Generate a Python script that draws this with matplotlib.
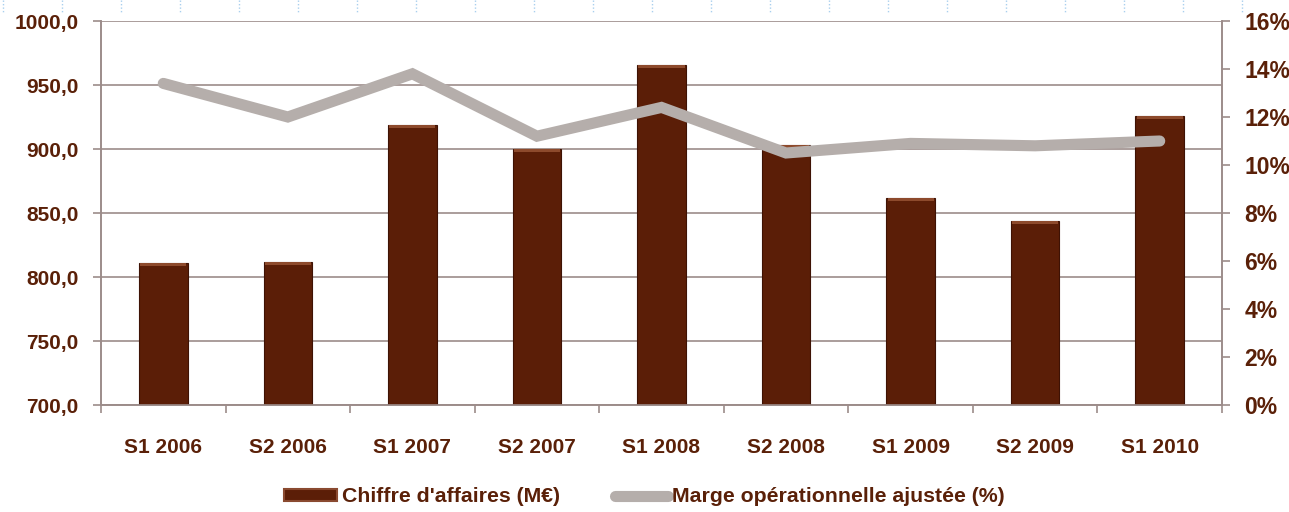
import matplotlib.pyplot as plt
import numpy as np
from matplotlib.lines import Line2D

# données
periodes = ['S1 2006', 'S2 2006', 'S1 2007', 'S2 2007', 'S1 2008',
            'S2 2008', 'S1 2009', 'S2 2009', 'S1 2010']
chiffre_affaires = [811, 812, 919, 900, 966, 903, 862, 844, 926]
marge = [13.4, 12.0, 13.8, 11.2, 12.4, 10.5, 10.9, 10.8, 11.0]

brun = '#5a2008'
gris = '#b5aeab'
grille = '#9c8c8a'

plt.rcParams['font.family'] = ['Liberation Sans', 'DejaVu Sans']
plt.rcParams['font.weight'] = 'bold'

fig = plt.figure(figsize=(12.89, 5.12), dpi=100)
ax = fig.add_axes([101 / 1289, 1 - 405 / 512, 1121 / 1289, 384 / 512])
ax2 = ax.twinx()

x = np.arange(len(periodes))
ax.bar(x, [v - 700 for v in chiffre_affaires], bottom=700, width=0.39,
       color='#5b1e07', edgecolor='#3e1204', linewidth=0.8, zorder=3)
# petit biseau clair en haut des barres
ax.bar(x, 2.5, bottom=[v - 2.5 for v in chiffre_affaires], width=0.37,
       color='#8d4a2c', linewidth=0, zorder=3)
ax.set_ylim(700, 1000)
ax.set_xlim(-0.5, len(periodes) - 0.5)
ax.set_yticks(np.arange(700, 1001, 50))
ax.set_yticklabels([f'{v:.1f}'.replace('.', ',') for v in np.arange(700, 1001, 50)])
ax.grid(axis='y', color=grille, linewidth=1.2, zorder=0)
ax.set_axisbelow(True)

# ticks x entre les catégories
ax.set_xticks(x)
ax.set_xticklabels(periodes)
ax.set_xticks(np.arange(-0.5, len(periodes)), minor=True)
ax.tick_params(axis='x', which='major', length=0, pad=24)
ax.tick_params(axis='x', which='minor', length=6, color=grille, width=1.2, direction='out')
ax.tick_params(axis='y', length=6, color=grille, width=1.2, pad=10)

ax2.plot(x, marge, color=gris, linewidth=8, solid_capstyle='round',
         solid_joinstyle='miter', zorder=4)
ax2.set_ylim(0, 16)
ax2.set_yticks(np.arange(0, 17, 2))
ax2.set_yticklabels([f'{v}%' for v in range(0, 17, 2)])
ax2.tick_params(axis='y', length=6, color=grille, width=1.2, pad=10)

for a in (ax, ax2):
    for s in a.spines.values():
        s.set_color(grille)
        s.set_linewidth(1.2)
    a.spines['top'].set_visible(False)
    for lab in a.get_xticklabels() + a.get_yticklabels():
        lab.set_color(brun)
        lab.set_fontsize(15)
        lab.set_fontweight('bold')
for lab in ax2.get_yticklabels():
    lab.set_fontsize(16.5)

# légende
handles = [
    plt.Rectangle((0, 0), 1, 1, facecolor='#5b1e07', edgecolor='#8a4a30', linewidth=1.5),
    Line2D([0], [0], color=gris, linewidth=8, solid_capstyle='round'),
]
leg = fig.legend(handles, ["Chiffre d'affaires (M€)", 'Marge opérationnelle ajustée (%)'],
                 loc='center', bbox_to_anchor=(0.5, 1 - 497 / 512), ncol=2, frameon=False,
                 handlelength=2.5, handleheight=0.55, handletextpad=0.2, columnspacing=2.6,
                 prop={'family': ['Liberation Sans Narrow', 'Liberation Sans'],
                       'weight': 'bold', 'size': 15.3})
for t in leg.get_texts():
    t.set_color(brun)

# repères pointillés en haut
for xp in np.arange(3, 1289, 59):
    fig.add_artist(Line2D([xp / 1289, xp / 1289], [1, 1 - 12 / 512], color='#a9cfee',
                          linewidth=1, linestyle=(0, (1, 1.5))))

fig.savefig('out.png', dpi=100)
